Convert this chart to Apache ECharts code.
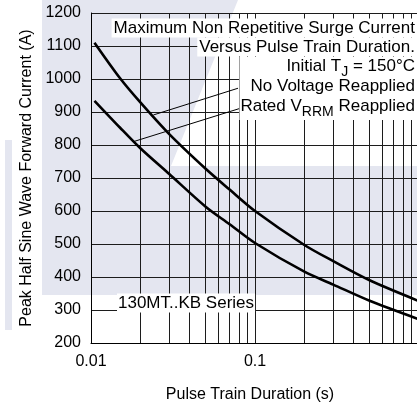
<!DOCTYPE html>
<html>
<head>
<meta charset="utf-8">
<script src="https://cdn.jsdelivr.net/npm/echarts@6/dist/echarts.min.js"></script>
<style>
html,body{margin:0;padding:0;background:#fff;}
#c{width:417px;height:405px;}
</style>
</head>
<body>
<div id="c"></div>
<script>
// ---- data ----
var durations = [0.0105, 0.015, 0.02, 0.03, 0.05, 0.07, 0.1, 0.2, 0.3, 0.5, 1.0];
var noVoltage = [1110, 1003, 929, 833, 728, 665, 600, 497, 448, 390, 327];
var ratedVrrm = [934, 853, 790, 712, 613, 560, 503, 416, 377, 328, 272];
var minorGridX = [0.02, 0.03, 0.04, 0.05, 0.06, 0.07, 0.08, 0.09, 0.2, 0.3, 0.4, 0.5, 0.6, 0.7, 0.8, 0.9];
var xTickLabels = {'0.01': '0.01', '0.1': '0.1', '1': ''};
var leaderNoVoltage = [[0.0240, 891], [0.0788, 972]];
var leaderRated = [[0.0181, 810], [0.0811, 911]];

var FONT = '"Liberation Sans", Arial, sans-serif';
function pairs(xs, ys) { return xs.map(function (x, i) { return [x, ys[i]]; }); }

var chart = echarts.init(document.getElementById('c'), null, {renderer: 'canvas'});
var gridColor = '#1c1c1c';
var wm = '#e4e6f0';
var AF = 17; // annotation font size

chart.setOption({
  animation: false,
  backgroundColor: '#fff',
  textStyle: {fontFamily: FONT},
  grid: {left: 91, top: 13, width: 328, height: 330, containLabel: false, outerBoundsMode: 'none'},
  xAxis: {
    type: 'log', logBase: 10, min: 0.01, max: 1,
    axisLine: {show: true, lineStyle: {color: '#000', width: 1}},
    axisTick: {show: false},
    axisLabel: {
      fontSize: 16, color: '#000', fontFamily: FONT, margin: 11, showMaxLabel: false,
      formatter: function (v) { var k = String(+(+v).toPrecision(3)); return xTickLabels[k] !== undefined ? xTickLabels[k] : k; }
    },
    splitLine: {show: true, lineStyle: {color: gridColor, width: 1}},
    name: 'Pulse Train Duration (s)', nameLocation: 'middle', nameGap: 44,
    nameTextStyle: {fontSize: 16, color: '#000', fontFamily: FONT, padding: [0, 10, 0, 0]}
  },
  yAxis: {
    type: 'value', min: 200, max: 1200, interval: 100,
    axisLine: {show: true, lineStyle: {color: '#000', width: 1}},
    axisTick: {show: false},
    axisLabel: {fontSize: 16, color: '#000', fontFamily: FONT, margin: 10,
                formatter: function (v) { return String(v); }},
    splitLine: {show: true, lineStyle: {color: gridColor, width: 1}},
    name: 'Peak Half Sine Wave Forward Current (A)', nameLocation: 'middle', nameGap: 50,
    nameTextStyle: {fontSize: 16, color: '#000', fontFamily: FONT}
  },
  graphic: [
    {type: 'polygon', z: -10, silent: true,
     shape: {points: [[42, 0], [238, 0], [171, 166], [417, 166], [417, 295], [42, 295]]},
     style: {fill: wm}},
    {type: 'rect', z: -10, silent: true, shape: {x: 5, y: 140, width: 7, height: 190}, style: {fill: wm}},
    {type: 'text', z: 100, x: 418, y: 28,
     style: {text: 'Maximum Non Repetitive Surge Current', align: 'right', verticalAlign: 'middle',
             font: AF + 'px ' + FONT, fill: '#000', backgroundColor: '#fff', padding: [1, 3, 1, 2]}},
    {type: 'text', z: 100, x: 418, y: 47,
     style: {text: 'Versus Pulse Train Duration.', align: 'right', verticalAlign: 'middle',
             font: AF + 'px ' + FONT, fill: '#000', backgroundColor: '#fff', padding: [1, 3, 1, 2]}},
    {type: 'text', z: 100, x: 418, y: 57,
     style: {text: '{a|Initial T}{s|J}{a| = 150°C}\n{a|No Voltage Reapplied}\n{a|Rated V}{s|RRM}{a| Reapplied}',
             align: 'right', verticalAlign: 'top', fill: '#000', backgroundColor: '#fff', padding: [1, 3, 2, 1],
             font: AF + 'px ' + FONT,
             rich: {
               a: {fontSize: AF, fontFamily: FONT, lineHeight: 20, verticalAlign: 'top', fill: '#000'},
               s: {fontSize: 14, fontFamily: FONT, lineHeight: 20, verticalAlign: 'top', padding: [7, 0, 0, 0], fill: '#000'}
             }}},
    {type: 'text', z: 100, x: 117, y: 303,
     style: {text: '130MT..KB Series', align: 'left', verticalAlign: 'middle',
             font: AF + 'px ' + FONT, fill: '#000', backgroundColor: '#fff', padding: [1, 1, 1, 1]}}
  ],
  series: [
    {
      name: 'No Voltage Reapplied', type: 'line', data: pairs(durations, noVoltage),
      showSymbol: false, symbol: 'none', smooth: 0.3,
      lineStyle: {color: '#000', width: 2.6}, z: 5, silent: true,
      markLine: {
        silent: true, symbol: 'none', label: {show: false}, animation: false,
        lineStyle: {color: gridColor, width: 1, type: 'solid'},
        emphasis: {disabled: true},
        data: minorGridX.map(function (v) { return {xAxis: v}; })
      }
    },
    {
      name: 'Rated VRRM Reapplied', type: 'line', data: pairs(durations, ratedVrrm),
      showSymbol: false, symbol: 'none', smooth: 0.3,
      lineStyle: {color: '#000', width: 2.6}, z: 5, silent: true,
      markLine: {
        silent: true, symbol: 'none', label: {show: false}, animation: false,
        lineStyle: {color: '#000', width: 1, type: 'solid'},
        emphasis: {disabled: true},
        data: [
          [{coord: leaderNoVoltage[0]}, {coord: leaderNoVoltage[1]}],
          [{coord: leaderRated[0]}, {coord: leaderRated[1]}]
        ]
      }
    }
  ]
});
</script>
</body>
</html>
